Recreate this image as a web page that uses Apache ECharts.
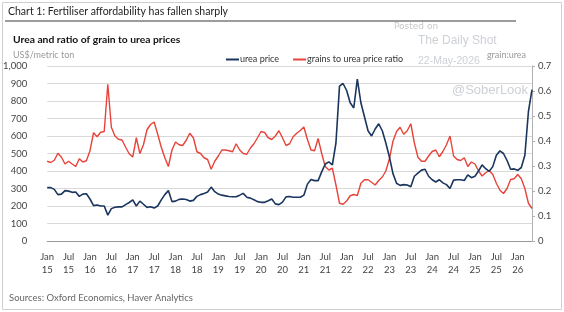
<!DOCTYPE html>
<html><head><meta charset="utf-8">
<script src="https://cdn.jsdelivr.net/npm/echarts@6/dist/echarts.min.js"></script>
<style>html,body{margin:0;padding:0;background:#fff}#c{width:564px;height:312px}</style>
</head><body><div id="c"></div>
<script>
// Monthly, Jan 2015 .. May 2026
const startYear = 2015, nMonths = 137;
const monthNames = ['Jan','Feb','Mar','Apr','May','Jun','Jul','Aug','Sep','Oct','Nov','Dec'];
const categories = [];
for (let i = 0; i < nMonths; i++) {
  categories.push(monthNames[i % 12] + ' ' + String((startYear + Math.floor(i / 12)) % 100));
}
// urea price, US$/metric ton (left axis)
const ureaPrice = [
  305,305,295,265,268,288,285,278,280,255,268,270,
  240,202,206,200,200,148,185,193,195,195,208,220,
  235,200,228,210,192,196,188,200,235,265,288,225,
  228,238,240,237,228,232,255,265,272,280,308,282,
  268,262,258,254,253,253,262,272,250,245,236,225,
  221,221,230,240,212,208,222,252,254,250,250,250,
  262,325,352,345,345,395,440,452,435,560,885,900,
  860,790,760,925,790,710,630,600,640,670,630,560,
  480,385,330,318,322,320,310,370,388,405,410,370,
  350,337,350,332,322,300,348,350,350,346,378,362,
  370,400,435,413,398,425,490,515,500,460,410,412,
  404,420,490,740,865
];
// grains to urea price ratio (right axis)
const grainRatio = [
  0.319,0.314,0.323,0.351,0.335,0.308,0.319,0.308,0.298,0.329,0.316,0.321,
  0.361,0.433,0.417,0.435,0.438,0.627,0.455,0.420,0.407,0.404,0.375,0.349,
  0.336,0.413,0.350,0.385,0.445,0.466,0.476,0.427,0.375,0.333,0.298,0.364,
  0.396,0.385,0.382,0.403,0.431,0.413,0.357,0.350,0.333,0.326,0.287,0.319,
  0.340,0.364,0.364,0.361,0.357,0.389,0.364,0.350,0.347,0.372,0.389,0.413,
  0.438,0.434,0.413,0.406,0.420,0.441,0.413,0.382,0.389,0.417,0.431,0.442,
  0.456,0.406,0.364,0.361,0.410,0.350,0.298,0.284,0.291,0.224,0.151,0.147,
  0.160,0.181,0.186,0.182,0.231,0.245,0.245,0.235,0.224,0.242,0.256,0.280,
  0.329,0.399,0.438,0.455,0.427,0.441,0.469,0.392,0.335,0.319,0.319,0.340,
  0.358,0.364,0.337,0.358,0.385,0.420,0.340,0.326,0.322,0.333,0.298,0.316,
  0.308,0.280,0.260,0.273,0.281,0.266,0.231,0.203,0.190,0.210,0.246,0.249,
  0.266,0.249,0.210,0.151,0.130
];
const leftTicks = [0,100,200,300,400,500,600,700,800,900,1000];
const rightTicks = [0,0.1,0.2,0.3,0.4,0.5,0.6,0.7];

const FONT = 'Lato, "Open Sans", sans-serif';
const NAVY = '#1a355e', RED = '#e8433a';
const chart = echarts.init(document.getElementById('c'), null, {renderer:'canvas'});
chart.setOption({
  animation: false,
  textStyle: {fontFamily: FONT},
  grid: {left: 42, right: 32, top: 66, bottom: 71, containLabel: false},
  legend: {
    left: 221, top: 50, itemGap: 14, itemWidth: 13, itemHeight: 2, icon: 'rect',
    textStyle: {fontSize: 9, color: '#333', fontFamily: FONT, padding: [0,0,0,-4]},
    data: ['urea price', 'grains to urea price ratio']
  },
  xAxis: {
    type: 'category', data: categories, boundaryGap: false,
    axisLine: {lineStyle: {color: '#9a9a9a', width: 1}},
    axisTick: {show: false},
    axisLabel: {
      interval: function (i) { return i % 6 === 0; },
      formatter: function (v) { return v.replace(' ', '\n'); },
      color: '#444', fontSize: 9.5, lineHeight: 13, margin: 9, fontFamily: FONT
    },
    splitLine: {show: false}
  },
  yAxis: [
    {
      type: 'value', min: leftTicks[0], max: leftTicks[leftTicks.length - 1], interval: 100,
      axisLine: {show: false}, axisTick: {show: false},
      axisLabel: {color: '#444', fontSize: 9.5, margin: 20, fontFamily: FONT},
      splitLine: {lineStyle: {color: '#d9d9d9', width: 1.2}}
    },
    {
      type: 'value', min: rightTicks[0], max: rightTicks[rightTicks.length - 1], interval: 0.1,
      position: 'right',
      axisLine: {show: true, lineStyle: {color: '#b0b0b0'}},
      axisTick: {show: true, length: 3, inside: false, lineStyle: {color: '#b0b0b0'}},
      axisLabel: {color: '#444', fontSize: 9.5, margin: 6, fontFamily: FONT,
        formatter: function (v) { return v === 0 ? '0' : v.toFixed(1); }},
      splitLine: {show: false}
    }
  ],
  series: [
    {name: 'urea price', type: 'line', yAxisIndex: 0, data: ureaPrice, showSymbol: false,
      lineStyle: {color: NAVY, width: 1.6}, itemStyle: {color: NAVY}, z: 3},
    {name: 'grains to urea price ratio', type: 'line', yAxisIndex: 1, data: grainRatio, showSymbol: false,
      lineStyle: {color: RED, width: 1.4}, itemStyle: {color: RED}, z: 2}
  ],
  graphic: [
    {type: 'rect', shape: {x: 2.5, y: 2.5, width: 559, height: 307}, style: {fill: 'none', stroke: '#cfcfcf', lineWidth: 1}, silent: true},
    {type: 'rect', shape: {x: 5, y: 20, width: 511, height: 2}, style: {fill: '#9c9c9c'}, silent: true},
    {type: 'text', left: 8, top: 6, style: {text: 'Chart 1: Fertiliser affordability has fallen sharply', font: '10.5px ' + FONT, fill: '#222'}},
    {type: 'text', left: 13, top: 35, style: {text: 'Urea and ratio of grain to urea prices', font: 'bold 10.3px ' + FONT, fill: '#111'}},
    {type: 'text', left: 13, top: 51, style: {text: 'US$/metric ton', font: '9px ' + FONT, fill: '#999'}},
    {type: 'text', right: 38, top: 51, style: {text: 'grain:urea', font: '9px ' + FONT, fill: '#999'}},
    {type: 'text', left: 9, top: 293, style: {text: 'Sources: Oxford Economics, Haver Analytics', font: '9.5px ' + FONT, fill: '#666'}},
    {type: 'text', left: 394, top: 22, style: {text: 'Posted on', font: '9px "DejaVu Sans", sans-serif', fill: '#c8c8c8'}, z: 10},
    {type: 'text', left: 418, top: 35, style: {text: 'The Daily Shot', font: '12px "Liberation Sans", sans-serif', fill: '#cdd0d6'}, z: 10},
    {type: 'text', left: 418, top: 56, style: {text: '22-May-2026', font: '10.5px "Liberation Sans", sans-serif', fill: '#cdd0d6'}, z: 10},
    {type: 'text', left: 452, top: 84, style: {text: '@SoberLook', font: '13px "Liberation Sans", sans-serif', fill: '#cdd0d6'}, z: 10}
  ]
});
</script></body></html>
